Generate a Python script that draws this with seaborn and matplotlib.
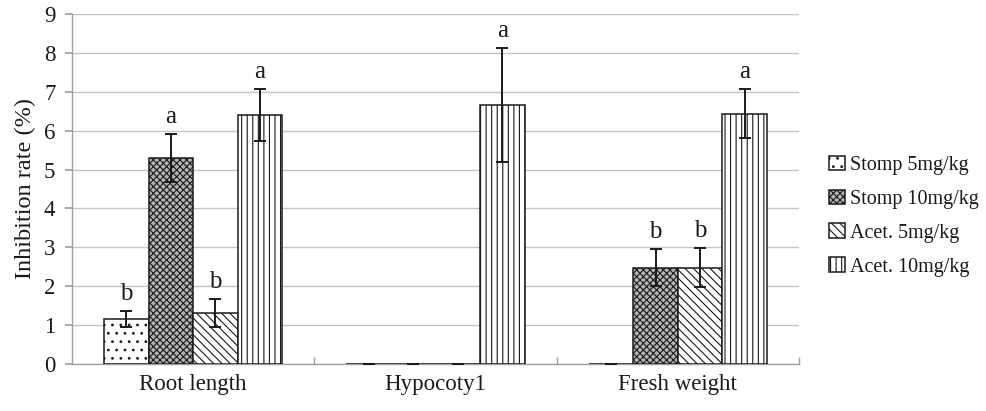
import numpy as np
import pandas as pd
import matplotlib
matplotlib.use("Agg")
import matplotlib.pyplot as plt
import seaborn as sns
from matplotlib.patches import Patch

categories = ["Root length", "Hypocoty1", "Fresh weight"]
treatments = ["Stomp 5mg/kg", "Stomp 10mg/kg", "Acet. 5mg/kg", "Acet. 10mg/kg"]
# values per treatment, in category order
stomp5 = [1.15, 0.0, 0.0]
stomp10 = [5.29, 0.0, 2.48]
acet5 = [1.32, 0.0, 2.48]
acet10 = [6.40, 6.66, 6.44]
# error (half-length)
stomp5_err = [0.20, 0.0, 0.0]
stomp10_err = [0.62, 0.0, 0.48]
acet5_err = [0.36, 0.0, 0.50]
acet10_err = [0.66, 1.46, 0.62]
# significance letters
stomp5_lab = ["b", "", ""]
stomp10_lab = ["a", "", "b"]
acet5_lab = ["b", "", "b"]
acet10_lab = ["a", "a", "a"]

values = [stomp5, stomp10, acet5, acet10]
errors = [stomp5_err, stomp10_err, acet5_err, acet10_err]
letters = [stomp5_lab, stomp10_lab, acet5_lab, acet10_lab]

rows = []
for t, vals in zip(treatments, values):
    for c, v in zip(categories, vals):
        rows.append({"Category": c, "Treatment": t, "Value": v})
df = pd.DataFrame(rows)

sns.set_theme(style="white")
plt.rcParams["font.family"] = ["Liberation Serif", "DejaVu Serif"]
plt.rcParams["hatch.linewidth"] = 0.8

fig = plt.figure(figsize=(9.87, 4.11), dpi=100)
ax = fig.add_axes([0.073, 0.1144, 0.7365, 0.8516])

group_w = 0.735
sns.barplot(data=df, x="Category", y="Value", hue="Treatment",
            order=categories, hue_order=treatments, errorbar=None,
            width=group_w, gap=0, ax=ax, legend=False)

faces = ["white", "#b4b4b4", "white", "white"]
hatches = ["..", "xxxxx", "\\\\\\\\", "|||"]
bw = group_w / 4

def slot(xc):
    j = int(round(xc))
    k = int(round((xc - j) / bw + 1.5))
    return k, j

for bar in list(ax.patches):
    xc = bar.get_x() + bar.get_width() / 2
    k, j = slot(xc)
    if 0 <= k < 4:
        bar.set_facecolor(faces[k])
        bar.set_edgecolor("#1a1a1a")
        bar.set_linewidth(1.1)
        bar.set_hatch(hatches[k])
        bar.set_zorder(3)

for k in range(4):
    for j in range(3):
        xc = j + (k - 1.5) * bw
        h = values[k][j]
        e = errors[k][j]
        ax.errorbar(xc, h, yerr=e, fmt="none", ecolor="#1a1a1a",
                    elinewidth=1.4, capsize=4.5, capthick=1.4, zorder=4)
        if letters[k][j]:
            ax.annotate(letters[k][j], xy=(xc, h + e), xytext=(0, 8),
                        textcoords="offset points", ha="center", va="baseline",
                        fontsize=18, color="#1a1a1a")

ax.set_ylim(0, 9)
ax.set_xlim(-0.5, 2.5)
ax.set_yticks(range(0, 10))
ax.yaxis.grid(True, color="#c4c4c4", linewidth=1.0, zorder=0)
ax.set_axisbelow(True)
for s in ["top", "right"]:
    ax.spines[s].set_visible(False)
for s in ["left", "bottom"]:
    ax.spines[s].set_color("#a0a0a0")
    ax.spines[s].set_linewidth(1.0)

ax.set_xlabel("")
ax.set_ylabel("Inhibition rate (%)", fontsize=17.5, color="#1a1a1a", labelpad=6)
ax.tick_params(axis="y", which="major", direction="out", length=5,
               color="#a0a0a0", labelsize=16.5, labelcolor="#1a1a1a", pad=7,
               left=True)
ax.tick_params(axis="x", which="major", length=0, labelsize=16.5,
               labelcolor="#1a1a1a", pad=7)
ax.set_xticks([0.5, 1.5, 2.5], minor=True)
ax.tick_params(axis="x", which="minor", direction="in", length=5,
               color="#a0a0a0", bottom=True)

handles = [Patch(facecolor=faces[k], edgecolor="#1a1a1a", hatch=hatches[k],
                 linewidth=1.1) for k in range(4)]
fig.legend(handles, treatments, loc="center left",
           bbox_to_anchor=(0.822, 0.474), frameon=False, fontsize=14.5,
           handlelength=0.75, handleheight=0.75, handletextpad=0.25,
           labelspacing=0.72, labelcolor="#1a1a1a")

fig.savefig("out.png", dpi=100)
